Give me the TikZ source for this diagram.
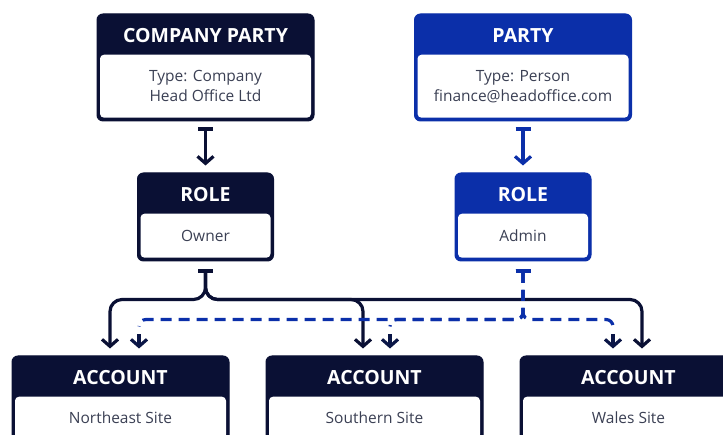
\documentclass[tikz,border=0pt]{standalone}
\usepackage{fontspec}
\setmainfont{Open Sans}
\usetikzlibrary{arrows.meta,calc,positioning}
\definecolor{navy}{HTML}{0A1034}
\definecolor{royal}{HTML}{0B2FA9}
\definecolor{bodytext}{HTML}{3B4054}

\begin{document}
\begin{tikzpicture}[x=1pt,y=1pt,node distance=51pt,
		entity/.style={fill=#1,draw=#1,line width=1pt,rounded corners=6pt,inner sep=0pt,minimum width=217pt,minimum height=107pt},
		rolebox/.style={entity=#1,minimum width=136pt,minimum height=88pt},
		head/.style={text=white,font=\bfseries\fontsize{19.5}{22}\selectfont},
		body/.style={fill=white,rounded corners=4pt,inner sep=0pt,align=center,text=bodytext,font=\fontsize{15.5}{20}\selectfont,anchor=north},
		link/.style={line width=3.2pt,line cap=butt,{Bar[width=15pt]}-{Straight Barb[length=7pt,width=16pt]}},
		dlink/.style={line width=3.2pt,line cap=butt,{Bar[width=15pt]}-,dash pattern=on 11pt off 7pt},
		stub/.style={line width=3.2pt,-{Straight Barb[length=7pt,width=16pt]},navy!85!royal}]
	\useasboundingbox (0,0) rectangle (723,435);
	\clip (0,0) rectangle (723,435);

	% parties
	\node[entity=navy] (cp) at (205.5,367.5) {};
	\node[head] (cp_h) at ($(cp.north)+(0,-22)$) {COMPANY PARTY};
	\node[body,minimum width=211pt,minimum height=63pt] (cp_b) at ($(cp.north)+(0,-41)$) {Type: Company\\Head Office Ltd};

	\node[entity=royal] (p) at (523,367.5) {};
	\node[head] (p_h) at ($(p.north)+(0,-22)$) {PARTY};
	\node[body,minimum width=211pt,minimum height=63pt] (p_b) at ($(p.north)+(0,-41)$) {Type: Person\\finance@headoffice.com};

	% roles
	\node[rolebox=navy] [below=of cp] (r_own) {};
	\node[head] (r_own_h) at ($(r_own.north)+(0,-22)$) {ROLE};
	\node[body,minimum width=130pt,minimum height=44pt] (r_own_b) at ($(r_own.north)+(0,-41)$) {Owner};

	\node[rolebox=royal] [below=of p] (r_adm) {};
	\node[head] (r_adm_h) at ($(r_adm.north)+(0,-22)$) {ROLE};
	\node[body,minimum width=130pt,minimum height=44pt] (r_adm_b) at ($(r_adm.north)+(0,-41)$) {Admin};

	% accounts
	\foreach \name/\x/\site in {a_ne/120.5/Northeast Site,a_so/374.5/Southern Site,a_wa/628.5/Wales Site}{
		\node[entity=navy,minimum height=86pt] (\name) at (\x,36) {};
		\node[head] (\name_h) at ($(\name.north)+(0,-22)$) {ACCOUNT};
		\node[body,minimum width=211pt,minimum height=42pt] (\name_b) at ($(\name.north)+(0,-41)$) {\site};
	}

	% party -> role
	\draw[link,navy,shorten <=6pt,shorten >=7pt] (cp) -- (r_own);
	\draw[link,royal,shorten <=6pt,shorten >=7pt] (p) -- (r_adm);

	% owner -> accounts
	\coordinate (own_bus) at ($(r_own.south)+(0,-38)$);
	\draw[link,navy,rounded corners=12pt,shorten <=8pt,shorten >=7pt] (r_own.south) -- (own_bus) -| ($(a_ne.north)+(-10.5,0)$);
	\draw[link,navy,rounded corners=12pt,shorten <=8pt,shorten >=7pt] (r_own.south) -- (own_bus) -| ($(a_so.north)+(-11.5,0)$);
	\draw[link,navy,rounded corners=12pt,shorten <=8pt,shorten >=7pt] (r_own.south) -- (own_bus) -| ($(a_wa.north)+(13.5,0)$);

	% admin -> accounts (dashed, solid stub at the end)
	\coordinate (adm_bus) at ($(r_adm.south)+(0,-58)$);
	\foreach \acc/\dx in {a_ne/18.5,a_so/15.5,a_wa/-15.5}{
		\draw[dlink,royal,rounded corners=7pt,shorten <=8pt] (r_adm.south) -- (adm_bus) -| ($(\acc.north)+(\dx,29)$);
		\draw[stub] ($(\acc.north)+(\dx,21)$) -- ($(\acc.north)+(\dx,7)$);
	}
\end{tikzpicture}
\end{document}
